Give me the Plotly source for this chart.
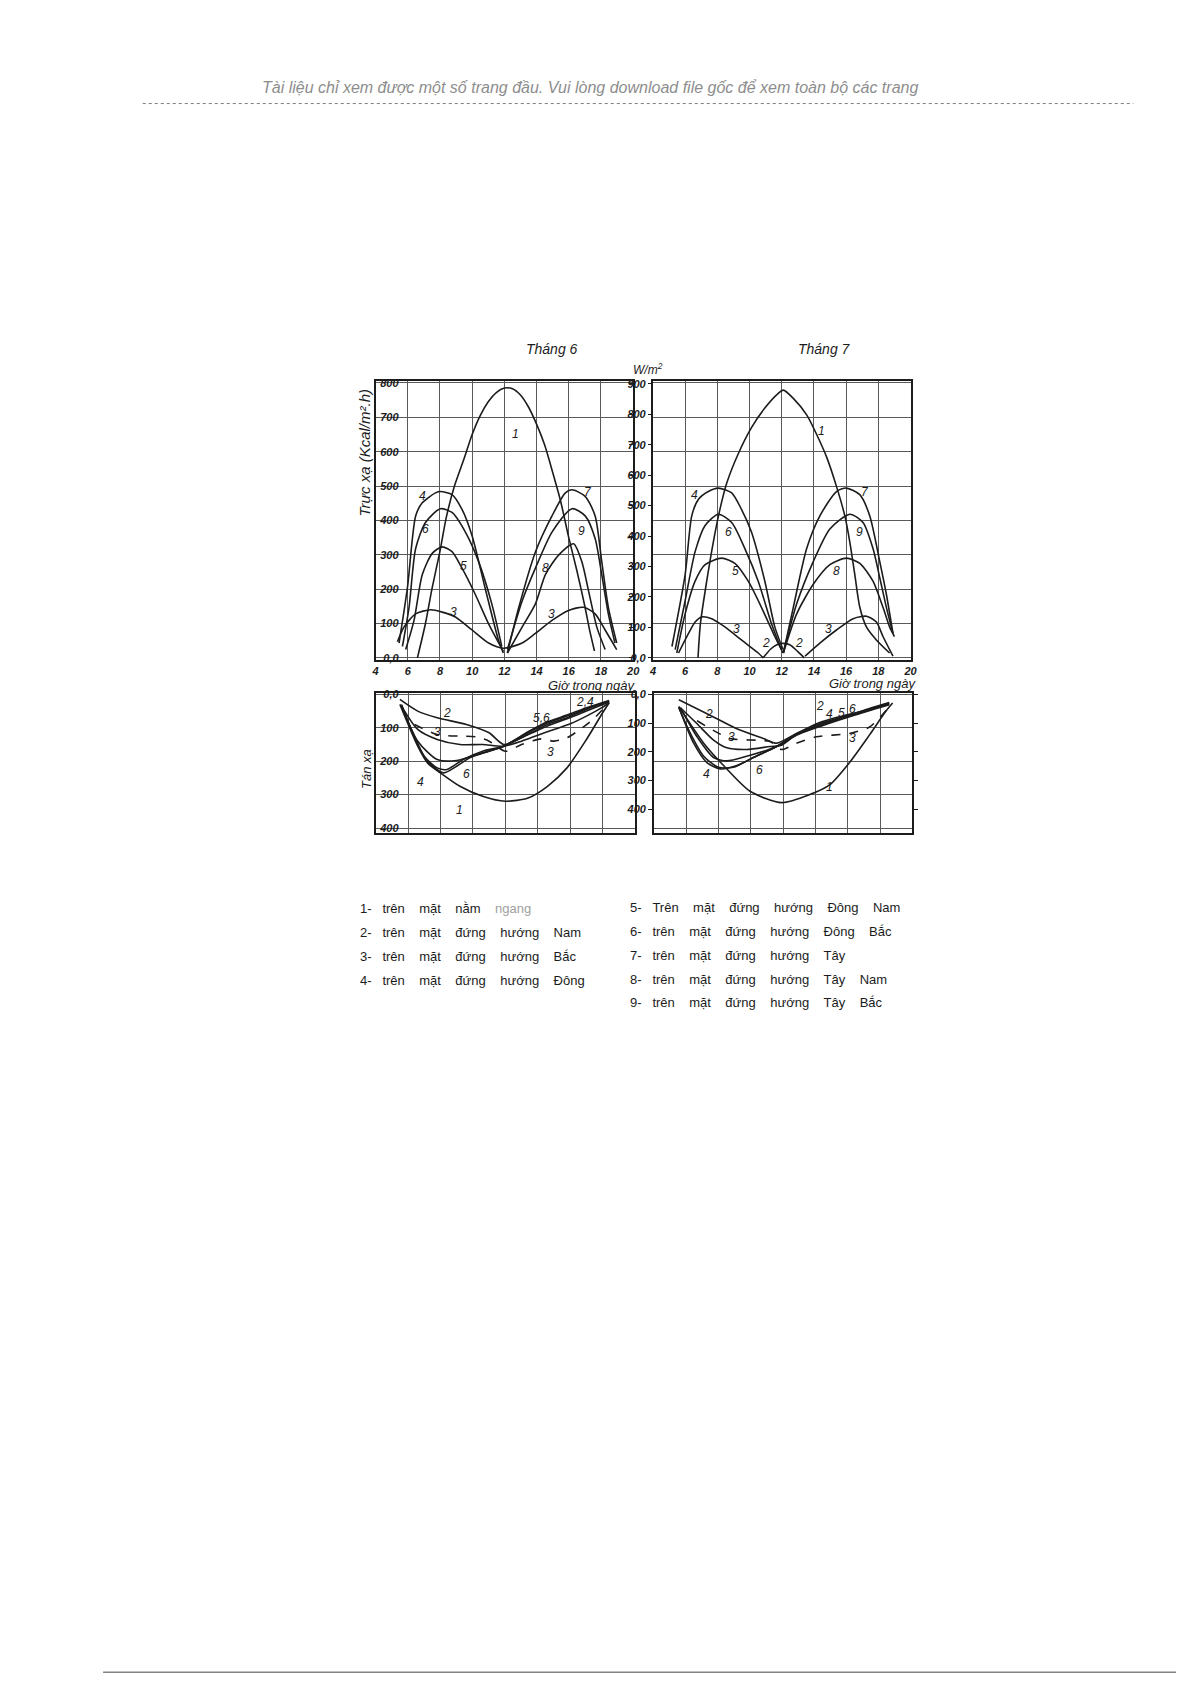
import plotly.graph_objects as go

# the page body has an 8 px margin, so the figure is a bit smaller than the window
PAGE_PAD = 8
FIG_W, FIG_H = 1191 - 2 * PAGE_PAD, 1685 - 2 * PAGE_PAD
INK = "#1c1c1c"
GRID = "#5a5a5a"
W_TO_KCAL_DIRECT = 0.886   # scale drawn on the W/m2 axis of the upper charts
W_TO_KCAL_DIFFUSE = 1 / 1.163

HOUR_TICKS = [4, 6, 8, 10, 12, 14, 16, 18, 20]
DIRECT_TICKS = [0, 100, 200, 300, 400, 500, 600, 700, 800]
DIRECT_W_TICKS = [0, 100, 200, 300, 400, 500, 600, 700, 800, 900]
DIFFUSE_TICKS = [0, 100, 200, 300, 400]
DIFFUSE_W_TICKS = [0, 100, 200, 300, 400]

# ---- Tháng 6 - trực xạ (kcal/m2.h): (giờ, giá trị) ----
jun_1 = ([6.6, 7.1, 7.5, 8.0, 8.4, 8.9, 9.5, 10.0, 10.5, 11.0, 11.5, 12.0, 12.5, 13.0, 13.5, 14.0, 14.5, 15.0, 15.5, 16.0, 16.5, 17.0, 17.3, 17.6],
         [0, 100, 200, 310, 410, 500, 580, 650, 705, 745, 772, 785, 783, 765, 730, 680, 620, 540, 455, 350, 255, 150, 80, 20])
jun_3 = ([5.36, 5.77, 6.49, 7.42, 8.14, 8.96, 9.99, 11.02, 11.94, 13.11, 13.93, 14.96, 15.99, 16.92, 17.64, 18.26, 18.98],
         [47, 90, 128, 140, 133, 119, 81, 43, 28, 43, 71, 109, 138, 147, 128, 81, 24])
jun_4 = ([5.46, 5.98, 6.49, 6.9, 7.72, 8.03, 8.75, 9.37, 9.99, 10.8, 11.63, 11.94],
         [43, 204, 413, 451, 480, 484, 475, 432, 356, 204, 52, 14])
jun_5 = ([5.87, 6.39, 6.9, 7.52, 8.14, 8.75, 9.37, 10.19, 11.02, 11.94],
         [24, 109, 242, 304, 323, 309, 261, 185, 99, 19])
jun_6 = ([5.67, 6.08, 6.49, 7.1, 8.03, 8.75, 9.58, 10.4, 11.22, 11.84],
         [33, 147, 318, 394, 434, 423, 366, 280, 157, 33])
jun_7 = ([12.19, 12.9, 13.93, 14.96, 15.79, 16.2, 17.02, 17.64, 18.05, 18.46, 18.98],
         [14, 147, 308, 413, 480, 489, 470, 413, 280, 147, 43])
jun_8 = ([12.19, 13.11, 13.93, 14.55, 15.37, 16.3, 16.81, 17.23, 17.74, 18.26],
         [14, 90, 157, 242, 299, 332, 280, 195, 90, 24])
jun_9 = ([12.19, 13.11, 13.93, 14.96, 16.2, 17.02, 17.64, 18.05, 18.46, 18.87],
         [24, 166, 261, 366, 434, 413, 347, 242, 128, 43])

# ---- Tháng 7 - trực xạ ----
jul_1 = ([6.8, 6.95, 7.34, 7.75, 8.16, 8.58, 9.3, 10.12, 10.95, 11.77, 12.1, 12.72, 13.55, 14.17, 14.79, 15.4, 15.92, 16.23, 16.54, 16.85, 17.26, 17.88, 18.7],
         [0, 100, 223, 337, 432, 508, 594, 670, 727, 769, 779, 755, 707, 650, 584, 499, 413, 337, 242, 147, 90, 52, 14])
jul_2 = ([10.85, 11.3, 11.7, 12.0, 12.5, 13.0, 13.4],
         [0, 25, 38, 42, 38, 18, 0])
jul_3 = ([5.59, 6.21, 6.62, 7.03, 7.65, 8.47, 9.5, 10.54, 10.85, None, 13.45, 14.37, 15.4, 16.44, 17.26, 17.88, 18.29, 18.91],
         [14, 71, 104, 119, 114, 90, 52, 14, 0, None, 5, 43, 81, 114, 121, 104, 62, 5])
jul_4 = ([5.18, 6.0, 6.41, 6.82, 7.44, 8.06, 8.89, 9.5, 10.12, 10.95, 11.57, 12.08],
         [33, 242, 413, 461, 484, 494, 480, 432, 366, 223, 90, 24])
jul_5 = ([5.48, 6.0, 6.62, 7.24, 8.27, 9.09, 9.92, 10.74, 11.57, 12.08],
         [14, 128, 223, 271, 290, 275, 223, 147, 62, 14])
jul_6 = ([5.38, 6.0, 6.62, 7.24, 8.06, 8.89, 9.71, 10.54, 11.36, 11.98],
         [24, 166, 309, 385, 418, 394, 318, 223, 100, 24])
jul_7 = ([12.1, 12.72, 13.55, 14.37, 15.4, 16.02, 16.85, 17.47, 18.09, 18.5, 18.91],
         [14, 147, 318, 413, 484, 494, 475, 413, 280, 185, 71])
jul_8 = ([12.1, 12.93, 13.96, 14.99, 16.02, 16.85, 17.67, 18.29, 18.7, 19.0],
         [14, 128, 214, 271, 290, 275, 223, 147, 90, 62])
jul_9 = ([12.1, 12.93, 13.96, 14.99, 16.23, 17.05, 17.67, 18.09, 18.5, 18.91],
         [14, 157, 280, 375, 418, 394, 318, 233, 147, 71])

# ---- Tháng 6 - tán xạ ----
jun_d1 = ([5.5, 6.6, 7.2, 8.0, 9.2, 10.6, 12.0, 13.4, 14.6, 15.8, 17.0, 18.0, 18.4],
          [30, 155, 205, 235, 275, 305, 320, 310, 275, 220, 135, 55, 25])
jun_d2 = ([5.5, 6.6, 7.8, 9.6, 11.0, 11.9, 13.4, 14.6, 15.8, 17.0, 18.4],
          [15, 50, 70, 90, 115, 150, 120, 95, 73, 50, 23])
jun_d3 = ([5.6, 6.6, 7.8, 9.2, 10.6, 11.9, 13.0, 14.0, 15.0, 16.0, 17.0, 18.0, 18.4],
          [35, 105, 135, 150, 150, 155, 140, 122, 105, 88, 65, 38, 25])
jun_d3b = ([6.4, 7.8, 9.2, 10.2, 11.0, 12.0, 13.0, 14.2, 15.0, 15.8, 16.6, 17.4, 18.2],
           [90, 120, 125, 127, 140, 170, 150, 133, 140, 130, 105, 75, 35])
jun_d4 = ([5.6, 6.3, 7.0, 7.8, 8.4, 9.4, 10.6, 11.9, 13.4, 14.6, 15.8, 17.0, 18.4],
          [35, 115, 185, 220, 225, 195, 170, 155, 120, 90, 70, 45, 20])
jun_d5 = ([5.6, 6.6, 7.8, 9.0, 10.6, 11.9, 13.4, 14.6, 15.8, 17.0, 18.4],
          [33, 140, 195, 198, 175, 155, 112, 82, 62, 40, 18])
jun_d6 = ([5.6, 6.4, 7.2, 8.2, 9.0, 9.8, 11.0, 11.9, 13.4, 14.6, 15.8, 17.0, 18.4],
          [30, 130, 200, 235, 215, 190, 170, 155, 115, 85, 65, 43, 20])

# ---- Tháng 7 - tán xạ ----
jul_d1 = ([5.54, 7.08, 8.31, 9.95, 11.9, 13.64, 14.87, 16.1, 17.33, 18.36, 18.77],
          [36, 146, 213, 290, 324, 300, 271, 204, 122, 50, 26])
jul_d2 = ([5.54, 7.38, 9.13, 10.77, 11.59, 12.82, 14.26, 15.28, 17.33, 18.56],
          [16, 60, 103, 132, 146, 117, 84, 69, 45, 26])
jul_d3 = ([5.64, 6.67, 7.69, 8.51, 9.74, 11.18, 11.9, 12.82, 14.26, 16.1, 17.33, 18.56],
          [40, 88, 137, 160, 165, 156, 152, 120, 88, 62, 42, 24])
jul_d3b = ([6.67, 8.72, 10.36, 11.18, 11.9, 12.82, 14.05, 16.1, 17.33, 18.15, 18.56],
           [79, 132, 137, 141, 165, 146, 127, 117, 98, 60, 36])
jul_d4 = ([5.54, 6.26, 7.08, 8.0, 8.92, 10.15, 11.59, 12.82, 14.46, 16.3, 18.56],
          [40, 117, 185, 218, 218, 189, 156, 122, 93, 64, 31])
jul_d5 = ([5.64, 6.67, 7.69, 8.51, 9.74, 11.59, 12.82, 14.46, 16.3, 18.56],
          [40, 127, 189, 199, 185, 156, 120, 90, 62, 29])
jul_d6 = ([5.54, 6.46, 7.28, 8.1, 9.13, 10.15, 11.59, 12.82, 14.46, 16.3, 18.56],
          [38, 146, 204, 223, 213, 189, 156, 118, 88, 60, 28])

# curve number labels: (text, hour, value)
jun_labels = [("4", 6.9, 470), ("6", 7.1, 375), ("5", 9.47, 266), ("3", 8.86, 133),
              ("1", 12.7, 650), ("7", 17.2, 484), ("9", 16.8, 370), ("8", 14.55, 261), ("3", 14.96, 128)]
jul_labels = [("4", 6.6, 475), ("6", 8.7, 366), ("5", 9.1, 252), ("3", 9.2, 85), ("2", 11.0, 44),
              ("2", 13.1, 44), ("1", 14.48, 660), ("7", 17.16, 484), ("9", 16.85, 366),
              ("8", 15.4, 252), ("3", 14.9, 85)]
jun_d_labels = [("2", 8.4, 55), ("3", 7.84, 113), ("4", 6.8, 262), ("6", 9.6, 237), ("1", 9.2, 345),
                ("5,6", 14.2, 70), ("2,4", 16.9, 22), ("3", 14.8, 172)]
jul_d_labels = [("2", 7.38, 60), ("3", 8.82, 127), ("4", 7.28, 237), ("6", 10.56, 225), ("1", 14.87, 276),
                ("2", 14.26, 36), ("4", 14.87, 60), ("5", 15.6, 55), ("6", 16.3, 45), ("3", 16.3, 132)]

legend_left = ["1- trên  mặt  nằm  <span style='color:#a0a0a0'>ngang</span>",
               "2- trên  mặt  đứng  hướng  Nam",
               "3- trên  mặt  đứng  hướng  Bắc",
               "4- trên  mặt  đứng  hướng  Đông"]
legend_right = ["5- Trên  mặt  đứng  hướng  Đông  Nam",
                "6- trên  mặt  đứng  hướng  Đông  Bắc",
                "7- trên  mặt  đứng  hướng  Tây",
                "8- trên  mặt  đứng  hướng  Tây  Nam",
                "9- trên  mặt  đứng  hướng  Tây  Bắc"]

HEADER = "Tài liệu chỉ xem được một số trang đầu. Vui lòng download file gốc để xem toàn bộ các trang"


def fx(px):
    return (px - PAGE_PAD) / FIG_W


def fy(py):
    return 1 - (py - PAGE_PAD) / FIG_H


TICK_FONT = dict(family="Liberation Sans Narrow, Liberation Sans", size=11, color=INK, style="italic", weight="bold")

fig = go.Figure()


def add_curve(curve, xa, ya, dash="solid"):
    fig.add_trace(go.Scatter(
        x=curve[0], y=curve[1], xaxis=xa, yaxis=ya, mode="lines",
        line=dict(color=INK, width=1.6, dash=dash, shape="spline", smoothing=0.7),
        connectgaps=False, hoverinfo="skip", showlegend=False))


for c in [jun_1, jun_3, jun_4, jun_5, jun_6, jun_7, jun_8, jun_9]:
    add_curve(c, "x", "y")
for c in [jul_1, jul_2, jul_3, jul_4, jul_5, jul_6, jul_7, jul_8, jul_9]:
    add_curve(c, "x2", "y2")
for c in [jun_d1, jun_d2, jun_d3, jun_d4, jun_d5, jun_d6]:
    add_curve(c, "x3", "y3")
add_curve(jun_d3b, "x3", "y3", dash="dash")
for c in [jul_d1, jul_d2, jul_d3, jul_d4, jul_d5, jul_d6]:
    add_curve(c, "x4", "y4")
add_curve(jul_d3b, "x4", "y4", dash="dash")

# empty traces so the overlay tick axes are drawn
for xa, ya in [("x", "y5"), ("x2", "y6"), ("x4", "y7")]:
    fig.add_trace(go.Scatter(x=[None], y=[None], xaxis=xa, yaxis=ya, showlegend=False, hoverinfo="skip"))

DIRECT_RANGE = [-6, 805]
DIFFUSE_RANGE = [415, -5]


def xaxis(left, right, labels, anchor):
    return dict(domain=[fx(left), fx(right)], range=[4, 20], tickvals=HOUR_TICKS, anchor=anchor,
                showticklabels=labels, ticks="", tickfont=TICK_FONT,
                showline=True, linecolor=INK, linewidth=1.5, mirror=True,
                showgrid=True, gridcolor=GRID, gridwidth=1, zeroline=False)


def grid_yaxis(top, bottom, rng, vals, text, labels, anchor):
    return dict(domain=[fy(bottom), fy(top)], range=rng, tickvals=vals, ticktext=text,
                showticklabels=labels, ticklabelposition="outside", ticklabelstandoff=-27,
                ticks="", tickfont=TICK_FONT,
                showline=True, linecolor=INK, linewidth=1.5, mirror=True,
                showgrid=True, gridcolor=GRID, gridwidth=1, zeroline=False, anchor=anchor)


def w_yaxis(over, anchor, side, rng, wvals, factor, labels, ticks="outside", mirror=False):
    return dict(overlaying=over, anchor=anchor, side=side, range=rng,
                tickvals=[w * factor for w in wvals],
                ticktext=["0,0"] + [str(w) for w in wvals[1:]],
                showticklabels=labels, ticks=ticks, ticklen=4, tickcolor=INK, tickwidth=1,
                tickfont=TICK_FONT, showgrid=False, zeroline=False,
                showline=mirror, mirror="ticks" if mirror else False, linecolor=INK, linewidth=1.5)


direct_text = ["0,0"] + [str(v) for v in DIRECT_TICKS[1:]]
diffuse_text = ["0,0"] + [str(v) for v in DIFFUSE_TICKS[1:]]

fig.update_layout(
    width=FIG_W, height=FIG_H, margin=dict(l=0, r=0, t=0, b=0),
    paper_bgcolor="white", plot_bgcolor="white", showlegend=False,
    xaxis=xaxis(375, 635, True, "y"),
    yaxis=grid_yaxis(379, 659, DIRECT_RANGE, DIRECT_TICKS, direct_text, True, "x"),
    xaxis2=xaxis(655, 915, True, "y2"),
    yaxis2=grid_yaxis(379, 659, DIRECT_RANGE, DIRECT_TICKS, direct_text, False, "x2"),
    xaxis3=xaxis(375, 637, False, "y3"),
    yaxis3=grid_yaxis(692, 833, DIFFUSE_RANGE, DIFFUSE_TICKS, diffuse_text, True, "x3"),
    xaxis4=xaxis(656, 917, False, "y4"),
    yaxis4=grid_yaxis(692, 833, DIFFUSE_RANGE, DIFFUSE_TICKS, diffuse_text, False, "x4"),
    yaxis5=w_yaxis("y", "x", "right", DIRECT_RANGE, DIRECT_W_TICKS, W_TO_KCAL_DIRECT, False, ticks="inside"),
    yaxis6=w_yaxis("y2", "x2", "left", DIRECT_RANGE, DIRECT_W_TICKS, W_TO_KCAL_DIRECT, True),
    yaxis7=w_yaxis("y4", "x4", "left", DIFFUSE_RANGE, DIFFUSE_W_TICKS, W_TO_KCAL_DIFFUSE, True, mirror=True),
)

ann = []


def page_text(x, y, text, size=12, color=INK, italic=True, xanchor="center", angle=0, family="Liberation Sans"):
    ann.append(dict(xref="paper", yref="paper", x=fx(x), y=fy(y), text=text, showarrow=False,
                    xanchor=xanchor, yanchor="middle", textangle=angle,
                    font=dict(family=family, size=size, color=color, style="italic" if italic else "normal")))


page_text(591, 84, HEADER, size=16, color="#8d8d8d")
page_text(553, 347, "Tháng 6", size=14)
page_text(828, 347, "Tháng 7", size=14)
page_text(650, 367, "W/m<sup>2</sup>", size=12)
page_text(364, 451, "Trực xạ (Kcal/m².h)", size=15, angle=-90)
page_text(366, 769, "Tán xạ", size=13, angle=-90)
page_text(593, 685, "Giờ trong ngày", size=13)
page_text(877, 683, "Giờ trong ngày", size=13)

GAP = "\u00a0\u00a0\u00a0\u00a0"
for i, line in enumerate(legend_left):
    page_text(357, 909 + i * 23.9, line.replace("- ", "-\u00a0\u00a0\u00a0").replace("  ", GAP),
              size=13, italic=False, xanchor="left")
for i, line in enumerate(legend_right):
    page_text(630, 908 + i * 23.9, line.replace("- ", "-\u00a0\u00a0\u00a0").replace("  ", GAP),
              size=13, italic=False, xanchor="left")

for labels, xa, ya in [(jun_labels, "x", "y"), (jul_labels, "x2", "y2"),
                       (jun_d_labels, "x3", "y3"), (jul_d_labels, "x4", "y4")]:
    for text, hx, hv in labels:
        ann.append(dict(xref=xa, yref=ya, x=hx, y=hv, text=text, showarrow=False,
                        font=dict(family="Liberation Sans", size=12, color=INK, style="italic")))

fig.update_layout(annotations=ann)

fig.add_shape(type="line", xref="paper", yref="paper", x0=fx(140), x1=fx(1140), y0=fy(100), y1=fy(100),
              line=dict(color="#7a7a7a", width=1, dash="dot"))
fig.add_shape(type="line", xref="paper", yref="paper", x0=fx(100), x1=1, y0=0.0005, y1=0.0005,
              line=dict(color="#444444", width=1))

fig.write_html("out.html")
